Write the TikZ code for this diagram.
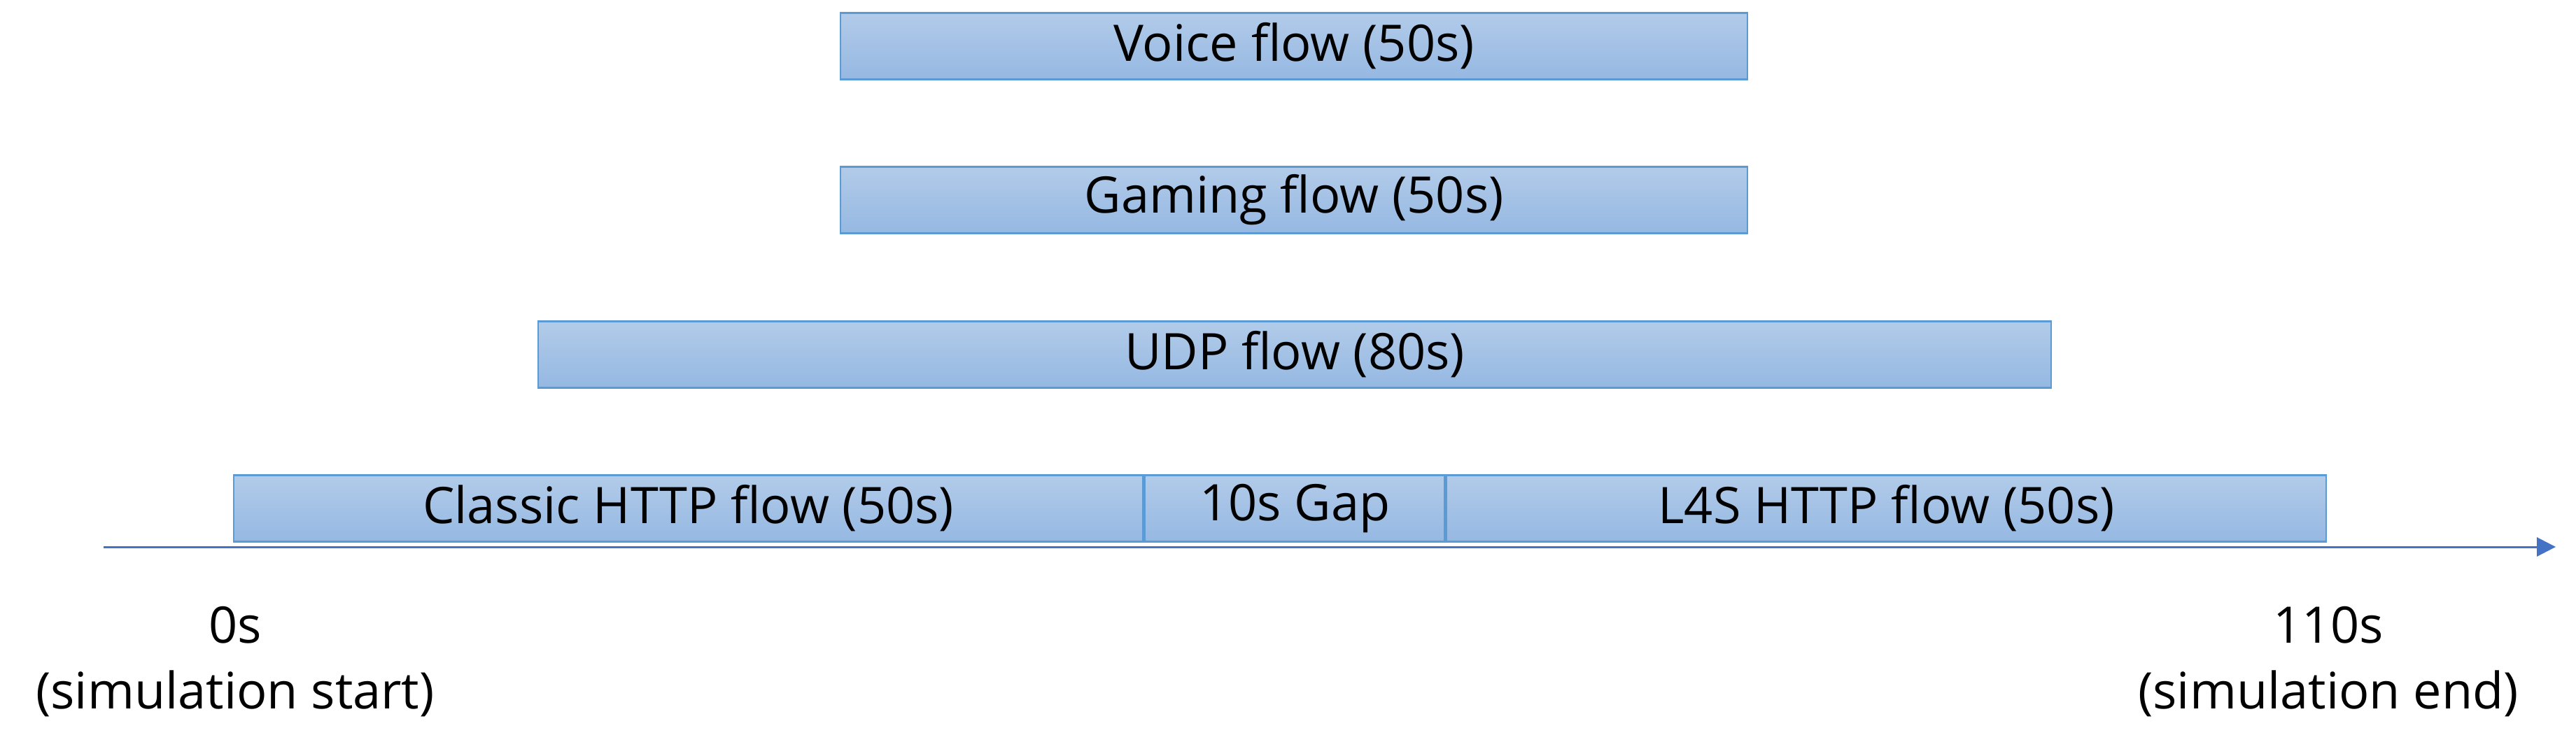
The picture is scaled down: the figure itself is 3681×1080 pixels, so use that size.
\documentclass[tikz,border=0pt]{standalone}
\usepackage{fontspec}
\setmainfont{Open Sans}
\usetikzlibrary{arrows.meta,positioning}
\definecolor{flowtop}{RGB}{178,203,233}
\definecolor{flowbot}{RGB}{149,184,226}
\definecolor{flowline}{RGB}{91,155,213}
\definecolor{axisblue}{RGB}{68,114,196}
\tikzset{
  flowbar/.style={draw=flowline, line width=0.7pt, top color=flowtop, bottom color=flowbot,
    minimum height=9.5mm, inner sep=0pt, anchor=west, font=\fontsize{20.5}{24}\selectfont},
  timelabel/.style={align=center, inner sep=0pt, font=\fontsize{20.5}{26.7}\selectfont},
  axisarr/.style={-{Triangle[length=2.7mm,width=2.7mm]}, line width=0.85pt, axisblue}
}
\begin{document}
\begin{tikzpicture}[x=0.1mm,y=0.1mm]
        \useasboundingbox (0,0) rectangle (3681,1080);
        % flows
        \node[flowbar,minimum width=129.6mm] (voice) at (1200,1014) {Voice flow (50s)};
        \node[flowbar,minimum width=129.6mm] (gaming) at (1200,794) {Gaming flow (50s)};
        \node[flowbar,minimum width=216.2mm] (udp) at (768,573) {UDP flow (80s)};
        \node[flowbar,minimum width=129.9mm] (classic) at (333,353) {Classic HTTP flow (50s)};
        \node[flowbar,minimum width=42.9mm] (gap) at (classic.east) {10s Gap};
        \node[flowbar,minimum width=125.7mm] (l4s) at (gap.east) {L4S HTTP flow (50s)};
        % time axis
        \coordinate (tstart) at (148,298);
        \coordinate (tend) at (3652,298);
        \draw[axisarr] (tstart) -- (tend);
        \node[timelabel] (t0) at (336,134) {0s\\(simulation start)};
        \node[timelabel] (t110) at (3327,134) {110s\\(simulation end)};
      \end{tikzpicture}
\end{document}
